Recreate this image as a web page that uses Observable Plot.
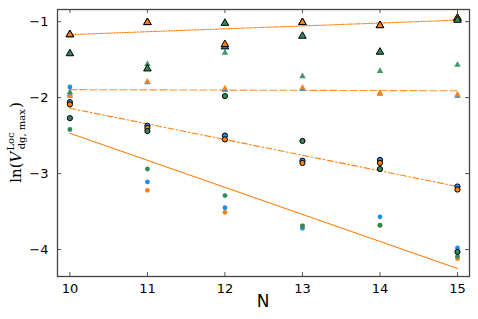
<!DOCTYPE html>
<html><head><meta charset="utf-8">
<script src="https://cdn.jsdelivr.net/npm/d3@7"></script>
<script src="https://cdn.jsdelivr.net/npm/@observablehq/plot@0.6"></script>
<style>body{margin:0;background:#fff}</style>
</head><body><div id="chart"></div>
<script>
const N = [10, 11, 12, 13, 14, 15];
const xTicks = [10, 11, 12, 13, 14, 15];
const yTicks = [-1, -2, -3, -4];

// black-edged triangles
const triEdgeBlue   = [-1.17, -1.01, -1.33, -1.01, -1.05, -0.96];
const triEdgeOrange = [-1.17, -1.01, -1.30, -1.01, -1.05, -0.95];
const triEdgeGreen  = [-1.42, -1.62, -1.02, -1.19, -1.40, -0.98];
// plain triangles
const triBlue   = [-1.96, -1.80, -1.90, -1.89, -1.95, -1.98];
const triOrange = [-1.98, -1.79, -1.88, -1.87, -1.94, -1.96];
const triGreen  = [-1.93, -1.56, -1.41, -1.72, -1.65, -1.57];
// black-edged circles
const cirEdgeBlue   = [-2.06, -2.37, -2.50, -2.83, -2.82, -3.17];
const cirEdgeOrange = [-2.09, -2.40, -2.55, -2.86, -2.86, -3.21];
const cirEdgeGreen  = [-2.27, -2.44, -1.98, -2.57, -2.94, -4.03];
// plain circles
const cirBlue   = [-1.86, -3.11, -3.45, -3.72, -3.57, -3.98];
const cirOrange = [-2.08, -3.22, -3.51, -3.69, -3.68, -4.12];
const cirGreen  = [-2.42, -2.94, -3.29, -3.69, -3.68, -4.09];

// fitted lines (endpoints at N = 10 and N = 15)
const fitN = [10, 15];
const fitTriEdge = [-1.17, -0.98];
const fitTri     = [-1.895, -1.91];
const fitCirEdge = [-2.14, -3.17];
const fitCir     = [-2.47, -4.25];

const BLUE = "#1e8cf0", ORANGE = "#ff800e", GREEN = "#2e8b57";

const rows = (vals, color) => N.map((n, i) => ({n, v: vals[i], color}));
const fit = vals => fitN.map((n, i) => ({n, v: vals[i]}));

const W = 478, H = 319, mL = 57, mR = 9, mT = 9, mB = 43;
const plotW = W - mL - mR, plotH = H - mT - mB;

const lineOpts = {x: "n", y: "v", stroke: ORANGE, strokeWidth: 1.1};

const dotsOf = (sets, opts) => sets.map(([vals, color]) =>
  Plot.dot(rows(vals, color), {x: "n", y: "v", fill: color, ...opts}));

const chart = Plot.plot({
  width: W, height: H,
  marginLeft: mL, marginRight: mR, marginTop: mT, marginBottom: mB,
  style: {fontFamily: "DejaVu Sans", fontSize: "13px", color: "#000", background: "#fff"},
  x: {domain: [9.84, 15.155], ticks: xTicks, tickSize: 0, tickPadding: 7, label: null, tickFormat: d => String(d)},
  y: {domain: [-4.355, -0.84], ticks: yTicks, tickSize: 0, tickPadding: 9, label: null,
      tickFormat: d => String(d).replace("-", "\u2212")},
  marks: [
    Plot.line(fit(fitTriEdge), {...lineOpts, strokeDasharray: "1.3,1.3"}),
    Plot.line(fit(fitTri), {...lineOpts, strokeDasharray: "7,3", strokeOpacity: 0.85}),
    Plot.line(fit(fitCirEdge), {...lineOpts, strokeDasharray: "6,2.5,1.5,2.5"}),
    Plot.line(fit(fitCir), {...lineOpts}),
    ...dotsOf([[cirBlue, BLUE], [cirOrange, ORANGE], [cirGreen, GREEN]], {r: 2.4}),
    ...dotsOf([[cirEdgeBlue, BLUE], [cirEdgeOrange, ORANGE], [cirEdgeGreen, GREEN]], {r: 2.6, stroke: "#000", strokeWidth: 1}),
    ...dotsOf([[triBlue, BLUE], [triOrange, ORANGE], [triGreen, GREEN]], {r: 2.4, symbol: "triangle", fillOpacity: 0.9}),
    ...dotsOf([[triEdgeBlue, BLUE], [triEdgeOrange, ORANGE], [triEdgeGreen, GREEN]], {r: 2.8, symbol: "triangle", stroke: "#000", strokeWidth: 1}),
    // inward ticks on all four sides
    Plot.ruleX(xTicks, {x: d => d, insetTop: plotH - 4, stroke: "#555", strokeWidth: 1}),
    Plot.ruleX(xTicks, {x: d => d, insetBottom: plotH - 4, stroke: "#555", strokeWidth: 1}),
    Plot.ruleY(yTicks, {y: d => d, insetRight: plotW - 4, stroke: "#555", strokeWidth: 1}),
    Plot.ruleY(yTicks, {y: d => d, insetLeft: plotW - 4, stroke: "#555", strokeWidth: 1}),
    Plot.frame({stroke: "#444", strokeWidth: 1.3})
  ]
});

const svg = d3.select(chart);
// x label
svg.append("text")
  .attr("x", mL + plotW / 2).attr("y", H - 12)
  .attr("text-anchor", "middle")
  .attr("font-family", "DejaVu Sans").attr("font-size", 17).attr("fill", "#000")
  .text("N");
// y label with super/subscripts
const yl = svg.append("text")
  .attr("transform", `translate(21,${mT + plotH / 2}) rotate(-90)`)
  .attr("text-anchor", "middle")
  .attr("font-family", "DejaVu Serif").attr("font-size", 15).attr("fill", "#000");
yl.append("tspan").text("ln(");
yl.append("tspan").attr("font-style", "italic").text("V");
yl.append("tspan").attr("font-size", 10).attr("dx", 1).attr("dy", -7).text("Loc");
yl.append("tspan").attr("font-size", 10).attr("dx", -17).attr("dy", 11).text("dg, max");
yl.append("tspan").attr("dx", 1).attr("dy", -4).text(")");

document.getElementById("chart").appendChild(chart);
</script>
</body></html>
